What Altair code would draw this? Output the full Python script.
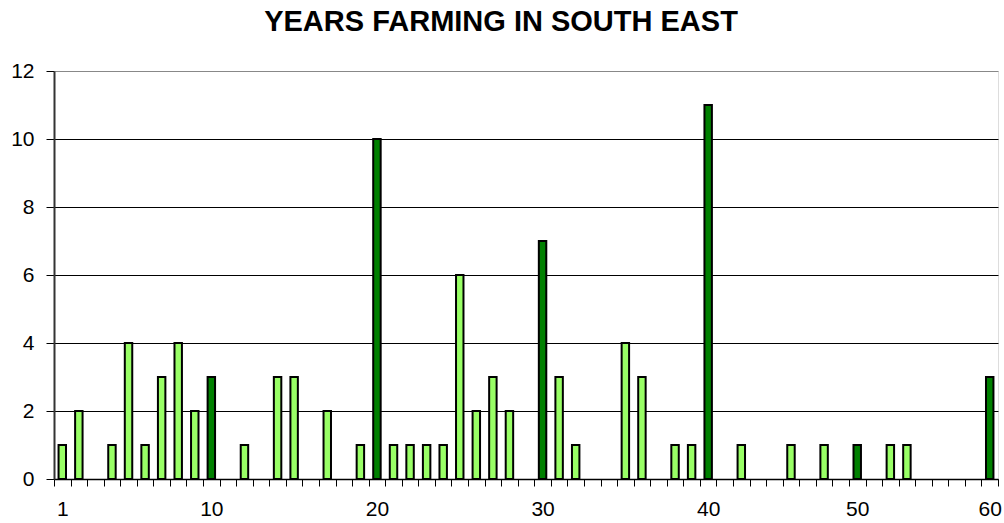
import altair as alt
import pandas as pd

# Category axis: each year present in the survey, in order
years = [1, 2, 3, 4, 5, 6, 7, 8, 9, 10,
         11, 12, 13, 14, 15, 16, 17, 18, 19, 20,
         21, 22, 23, 24, 25, 26, 27, 28, 29, 30,
         31, 32, 33, 34, 35, 36, 37, 38, 39, 40,
         41, 42, 44, 45, 46, 47, 48, 49, 50,
         51, 52, 53, 54, 56, 58, 59, 60]

# Number of farmers reporting each number of years
counts = [1, 2, 0, 1, 4, 1, 3, 4, 2, 3,
          0, 1, 0, 3, 3, 0, 2, 0, 1, 10,
          1, 1, 1, 1, 6, 2, 3, 2, 0, 7,
          3, 1, 0, 0, 4, 3, 0, 1, 1, 11,
          0, 1, 0, 0, 1, 0, 1, 0, 1,
          0, 1, 1, 0, 0, 0, 0, 3]

# Round-decade years are shaded darker; only these get axis labels
dark_years = [10, 20, 30, 40, 50, 60]
labelled_years = [1, 10, 20, 30, 40, 50, 60]
y_ticks = [0, 2, 4, 6, 8, 10, 12]

df = pd.DataFrame({"years": years, "count": counts})
df["shade"] = ["dark" if y in dark_years else "light" for y in df["years"]]
bars_df = df[df["count"] > 0]

FONT = "Liberation Sans"
label_expr = (
    "indexof(" + str(labelled_years) + ", datum.value) >= 0 ? datum.label : ''"
)

chart = (
    alt.Chart(bars_df)
    .mark_bar(width=alt.RelativeBandSize(0.45), stroke="black", strokeWidth=2)
    .encode(
        x=alt.X(
            "years:O",
            scale=alt.Scale(domain=years, paddingInner=0, paddingOuter=0),
            axis=alt.Axis(
                title=None,
                labelExpr=label_expr,
                labelAngle=0,
                labelOverlap=False,
                labelFont=FONT,
                labelFontSize=21,
                labelColor="black",
                labelPadding=12,
                tickBand="extent",
                tickColor="black",
                tickSize=7,
                tickWidth=1,
                domainColor="black",
                domainWidth=1.5,
            ),
        ),
        y=alt.Y(
            "count:Q",
            scale=alt.Scale(domain=[0, 12], nice=False),
            axis=alt.Axis(
                title=None,
                values=y_ticks,
                labelFont=FONT,
                labelFontSize=21,
                labelColor="black",
                labelPadding=12,
                tickColor="black",
                tickSize=8,
                domainColor="#333333",
                domainWidth=2,
                grid=True,
                gridColor={
                    "condition": {"test": "datum.value === 12", "value": "#888888"},
                    "value": "black",
                },
                gridWidth=1,
            ),
        ),
        color=alt.Color(
            "shade:N",
            scale=alt.Scale(domain=["light", "dark"], range=["#99FF66", "#008000"]),
            legend=None,
        ),
    )
    .properties(
        width=944,
        height=408,
        autosize=alt.AutoSizeParams(type="none"),
        padding={"left": 54, "top": 71, "right": 6, "bottom": 44},
        title=alt.TitleParams(
            "YEARS FARMING IN SOUTH EAST",
            font=FONT,
            fontSize=29,
            fontWeight="bold",
            color="black",
            anchor="middle",
            frame="group",
            dx=-25,
            baseline="alphabetic",
            offset=0,
        ),
    )
    .configure_view(stroke="#888888", strokeWidth=2)
    .configure(background="white")
)

chart.save("out.html", embed_options={"renderer": "svg", "actions": False})
